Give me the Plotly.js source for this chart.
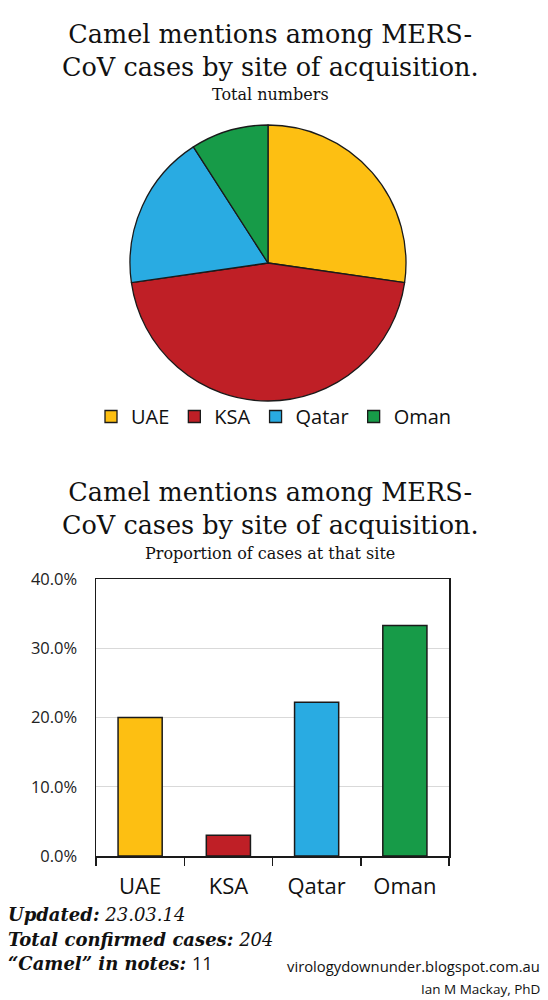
<!DOCTYPE html>
<html>
<head>
<meta charset="utf-8">
<script src="https://cdn.plot.ly/plotly-3.0.1.min.js"></script>
<style>html,body{margin:0;padding:0;background:#fff;}#chart{width:548px;height:1000px;}</style>
</head>
<body>
<div id="chart"></div>
<script>
// Data
const sites = ["UAE", "KSA", "Qatar", "Oman"];
const camelCounts = [3, 5, 2, 1];
const camelProportion = [20.0, 3.0, 22.2, 33.3];
const siteColors = ["#FDBF12", "#BF1F26", "#29ABE2", "#179B48"];
const yTickVals = [0, 10, 20, 30, 40];
const yTickText = ["0.0%", "10.0%", "20.0%", "30.0%", "40.0%"];

const serif = "DejaVu Serif, Georgia, serif";
const sans = "Open Sans, Noto Sans, sans-serif";
const W = 548, H = 1000;
const px = x => x / W;
const py = y => 1 - y / H;

const pie = {
  type: "pie",
  labels: sites,
  values: camelCounts,
  sort: false,
  direction: "clockwise",
  rotation: 0,
  textinfo: "none",
  hoverinfo: "label+value",
  marker: { colors: siteColors, line: { color: "#1a1a1a", width: 1.3 } },
  domain: { x: [px(268 - 138), px(268 + 138)], y: [py(263 + 138), py(263 - 138)] },
  showlegend: true
};

const bar = {
  type: "bar",
  x: sites,
  y: camelProportion,
  marker: { color: siteColors, line: { color: "#1a1a1a", width: 1.5 } },
  width: 0.5,
  showlegend: false,
  xaxis: "x", yaxis: "y"
};

function ann(text, x, y, size, family, xanchor, extra) {
  return Object.assign({
    text: text, x: x, y: y, xref: "paper", yref: "paper",
    xanchor: xanchor || "center", yanchor: "bottom", showarrow: false,
    font: { family: family, size: size, color: "#111" }
  }, extra || {});
}

const layout = {
  width: W, height: H,
  margin: { l: 0, r: 0, t: 0, b: 0 },
  paper_bgcolor: "#fff", plot_bgcolor: "#fff",
  showlegend: true,
  legend: {
    orientation: "h", x: px(274), xanchor: "center", y: py(397), yanchor: "top",
    bgcolor: "rgba(0,0,0,0)",
    font: { family: sans, size: 20, color: "#111" },
    itemwidth: 30, traceorder: "normal", itemclick: false
  },
  xaxis: {
    domain: [px(96), px(449)],
    anchor: "y",
    showline: true, linecolor: "#1a1a1a", linewidth: 1.5, mirror: true,
    ticks: "outside", tickson: "boundaries", ticklen: 8, tickcolor: "#1a1a1a", tickwidth: 1.5,
    ticklabelstandoff: 10,
    tickfont: { family: sans, size: 22, color: "#111" },
    showgrid: false, fixedrange: true
  },
  yaxis: {
    domain: [py(856), py(579)],
    anchor: "x",
    range: [0, 40],
    tickvals: yTickVals, ticktext: yTickText,
    showline: true, linecolor: "#1a1a1a", linewidth: 1.5, mirror: true,
    ticks: "", showgrid: true, gridcolor: "#d9d9d9", gridwidth: 1.2,
    zeroline: false,
    ticklabelstandoff: 14,
    tickfont: { family: sans, size: 16.5, color: "#222" },
    fixedrange: true
  },
  annotations: [
    ann("Camel mentions among MERS-<br>CoV cases by site of acquisition.", px(270), py(84), 25.5, serif, "center", { align: "center" }),
    ann("Total numbers", px(270), py(106), 16, serif),
    ann("Camel mentions among MERS-<br>CoV cases by site of acquisition.", px(270), py(542), 25.5, serif, "center", { align: "center" }),
    ann("Proportion of cases at that site", px(270), py(565), 16, serif),
    ann("<b><i>Updated:</i></b> <i>23.03.14</i>", px(6), py(927), 18, serif, "left"),
    ann("<b><i>Total confirmed cases:</i></b> <i>204</i>", px(6), py(952), 18, serif, "left"),
    ann("<b><i>“Camel” in notes:</i></b> <span style='font-family:Open Sans'>11</span>", px(6), py(977), 18, serif, "left"),
    ann("virologydownunder.blogspot.com.au", px(542), py(978), 14.8, sans, "right"),
    ann("Ian M Mackay, PhD", px(542), py(1000), 13.5, sans, "right")
  ]
};

Plotly.newPlot("chart", [pie, bar], layout, { displayModeBar: false, staticPlot: true });
</script>
</body>
</html>
